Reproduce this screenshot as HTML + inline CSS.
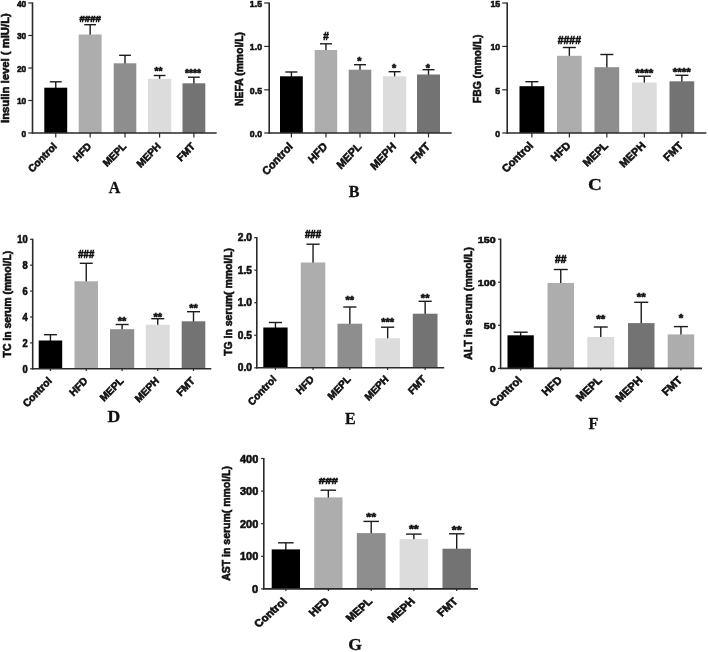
<!DOCTYPE html>
<html lang="en"><head><meta charset="utf-8"><title>Figure</title>
<style>html,body{margin:0;padding:0;background:#fff}body{width:708px;height:652px;overflow:hidden}svg{display:block}text{font-family:'Liberation Sans', Arial, Helvetica, sans-serif;font-weight:bold;fill:#111;stroke:#111;stroke-width:0.6px}.pl{font-family:'Liberation Serif', 'Times New Roman', serif;font-weight:bold;fill:#111;stroke-width:0.3px}</style></head><body>
<svg width="708" height="652" viewBox="0 0 708 652">
<rect x="0" y="0" width="708" height="652" fill="#ffffff"/>
<g>
<g id="panel-A">
<line x1="55.75" y1="88.7" x2="55.75" y2="81.8" stroke="#1c1c1c" stroke-width="1.4"/>
<line x1="49.85" y1="81.8" x2="61.65" y2="81.8" stroke="#1c1c1c" stroke-width="1.4"/>
<rect x="44.3" y="87.7" width="22.9" height="45.3" fill="#000000"/>
<line x1="55.75" y1="133" x2="55.75" y2="137.5" stroke="#2a2a2a" stroke-width="1.2"/>
<text transform="translate(57.55 146.9) scale(0.97 1) rotate(-45)" text-anchor="end" font-size="10.4">Control</text>
<line x1="90.15" y1="35.5" x2="90.15" y2="24.7" stroke="#1c1c1c" stroke-width="1.4"/>
<line x1="84.25" y1="24.7" x2="96.05" y2="24.7" stroke="#1c1c1c" stroke-width="1.4"/>
<rect x="78.7" y="34.5" width="22.9" height="98.5" fill="#adadad"/>
<text x="90.15" y="21.7" text-anchor="middle" font-size="9.5" stroke-width="0.5" textLength="21.2" lengthAdjust="spacingAndGlyphs">####</text>
<line x1="90.15" y1="133" x2="90.15" y2="137.5" stroke="#2a2a2a" stroke-width="1.2"/>
<text transform="translate(91.95 146.9) scale(0.97 1) rotate(-45)" text-anchor="end" font-size="10.4">HFD</text>
<line x1="125" y1="64.3" x2="125" y2="55.3" stroke="#1c1c1c" stroke-width="1.4"/>
<line x1="119.1" y1="55.3" x2="130.9" y2="55.3" stroke="#1c1c1c" stroke-width="1.4"/>
<rect x="113.7" y="63.3" width="22.6" height="69.7" fill="#8e8e8e"/>
<line x1="125" y1="133" x2="125" y2="137.5" stroke="#2a2a2a" stroke-width="1.2"/>
<text transform="translate(126.8 146.9) scale(0.97 1) rotate(-45)" text-anchor="end" font-size="10.4">MEPL</text>
<line x1="159.6" y1="79.8" x2="159.6" y2="75.5" stroke="#1c1c1c" stroke-width="1.4"/>
<line x1="153.7" y1="75.5" x2="165.5" y2="75.5" stroke="#1c1c1c" stroke-width="1.4"/>
<rect x="148" y="78.8" width="23.2" height="54.2" fill="#dcdcdc"/>
<text x="158.6" y="74.8" text-anchor="middle" font-size="10" stroke-width="0.15" textLength="8" lengthAdjust="spacingAndGlyphs">**</text>
<line x1="159.6" y1="133" x2="159.6" y2="137.5" stroke="#2a2a2a" stroke-width="1.2"/>
<text transform="translate(161.4 146.9) scale(0.97 1) rotate(-45)" text-anchor="end" font-size="10.4">MEPH</text>
<line x1="193.9" y1="84.3" x2="193.9" y2="77.2" stroke="#1c1c1c" stroke-width="1.4"/>
<line x1="188" y1="77.2" x2="199.8" y2="77.2" stroke="#1c1c1c" stroke-width="1.4"/>
<rect x="182.5" y="83.3" width="22.8" height="49.7" fill="#737373"/>
<text x="192.9" y="77.2" text-anchor="middle" font-size="10" stroke-width="0.15" textLength="16" lengthAdjust="spacingAndGlyphs">****</text>
<line x1="193.9" y1="133" x2="193.9" y2="137.5" stroke="#2a2a2a" stroke-width="1.2"/>
<text transform="translate(195.7 146.9) scale(0.97 1) rotate(-45)" text-anchor="end" font-size="10.4">FMT</text>
<line x1="32.5" y1="2.4" x2="32.5" y2="133.7" stroke="#2a2a2a" stroke-width="1.6"/>
<line x1="31.7" y1="133" x2="216.7" y2="133" stroke="#2a2a2a" stroke-width="1.6"/>
<line x1="28.3" y1="133" x2="32.5" y2="133" stroke="#2a2a2a" stroke-width="1.2"/>
<text transform="translate(26.3 136.7) scale(0.86 1)" text-anchor="end" font-size="9.8">0</text>
<line x1="28.3" y1="100.5" x2="32.5" y2="100.5" stroke="#2a2a2a" stroke-width="1.2"/>
<text transform="translate(26.3 104.2) scale(0.86 1)" text-anchor="end" font-size="9.8">10</text>
<line x1="28.3" y1="68" x2="32.5" y2="68" stroke="#2a2a2a" stroke-width="1.2"/>
<text transform="translate(26.3 71.7) scale(0.86 1)" text-anchor="end" font-size="9.8">20</text>
<line x1="28.3" y1="35.5" x2="32.5" y2="35.5" stroke="#2a2a2a" stroke-width="1.2"/>
<text transform="translate(26.3 39.2) scale(0.86 1)" text-anchor="end" font-size="9.8">30</text>
<line x1="28.3" y1="3" x2="32.5" y2="3" stroke="#2a2a2a" stroke-width="1.2"/>
<text transform="translate(26.3 7.3) scale(0.86 1)" text-anchor="end" font-size="9.8">40</text>
<text transform="translate(9.1 68.1) rotate(-90)" text-anchor="middle" font-size="11" textLength="109.8" lengthAdjust="spacingAndGlyphs">Insulin level ( mIU/L)</text>
<text class="pl" transform="translate(108.7 192.8) scale(1 1)" font-size="16">A</text>
</g>
<g id="panel-B">
<line x1="291.4" y1="77.3" x2="291.4" y2="72" stroke="#1c1c1c" stroke-width="1.4"/>
<line x1="285.4" y1="72" x2="297.4" y2="72" stroke="#1c1c1c" stroke-width="1.4"/>
<rect x="280" y="76.3" width="22.8" height="56.7" fill="#000000"/>
<line x1="291.4" y1="133" x2="291.4" y2="137.5" stroke="#2a2a2a" stroke-width="1.2"/>
<text transform="translate(293.4 147.2) scale(0.93 1) rotate(-45)" text-anchor="end" font-size="11.5">Control</text>
<line x1="325.95" y1="51" x2="325.95" y2="43.8" stroke="#1c1c1c" stroke-width="1.4"/>
<line x1="319.95" y1="43.8" x2="331.95" y2="43.8" stroke="#1c1c1c" stroke-width="1.4"/>
<rect x="314.7" y="50" width="22.5" height="83" fill="#adadad"/>
<text x="325.95" y="40" text-anchor="middle" font-size="11.3" stroke-width="0.5" textLength="5.6" lengthAdjust="spacingAndGlyphs">#</text>
<line x1="325.95" y1="133" x2="325.95" y2="137.5" stroke="#2a2a2a" stroke-width="1.2"/>
<text transform="translate(327.95 147.2) scale(0.93 1) rotate(-45)" text-anchor="end" font-size="11.5">HFD</text>
<line x1="360" y1="70.7" x2="360" y2="64.7" stroke="#1c1c1c" stroke-width="1.4"/>
<line x1="354" y1="64.7" x2="366" y2="64.7" stroke="#1c1c1c" stroke-width="1.4"/>
<rect x="348.7" y="69.7" width="22.6" height="63.3" fill="#8e8e8e"/>
<text x="359.4" y="65.4" text-anchor="middle" font-size="10" stroke-width="0.15" textLength="4.2" lengthAdjust="spacingAndGlyphs">*</text>
<line x1="360" y1="133" x2="360" y2="137.5" stroke="#2a2a2a" stroke-width="1.2"/>
<text transform="translate(362 147.2) scale(0.93 1) rotate(-45)" text-anchor="end" font-size="11.5">MEPL</text>
<line x1="394.6" y1="77.3" x2="394.6" y2="71.7" stroke="#1c1c1c" stroke-width="1.4"/>
<line x1="388.6" y1="71.7" x2="400.6" y2="71.7" stroke="#1c1c1c" stroke-width="1.4"/>
<rect x="383" y="76.3" width="23.2" height="56.7" fill="#dcdcdc"/>
<text x="394" y="72.1" text-anchor="middle" font-size="10" stroke-width="0.15" textLength="4.2" lengthAdjust="spacingAndGlyphs">*</text>
<line x1="394.6" y1="133" x2="394.6" y2="137.5" stroke="#2a2a2a" stroke-width="1.2"/>
<text transform="translate(396.6 147.2) scale(0.93 1) rotate(-45)" text-anchor="end" font-size="11.5">MEPH</text>
<line x1="428.5" y1="75.5" x2="428.5" y2="69.7" stroke="#1c1c1c" stroke-width="1.4"/>
<line x1="422.5" y1="69.7" x2="434.5" y2="69.7" stroke="#1c1c1c" stroke-width="1.4"/>
<rect x="417" y="74.5" width="23" height="58.5" fill="#737373"/>
<text x="427.9" y="72.1" text-anchor="middle" font-size="10" stroke-width="0.15" textLength="4.2" lengthAdjust="spacingAndGlyphs">*</text>
<line x1="428.5" y1="133" x2="428.5" y2="137.5" stroke="#2a2a2a" stroke-width="1.2"/>
<text transform="translate(430.5 147.2) scale(0.93 1) rotate(-45)" text-anchor="end" font-size="11.5">FMT</text>
<line x1="269.2" y1="2.4" x2="269.2" y2="133.7" stroke="#2a2a2a" stroke-width="1.6"/>
<line x1="268.4" y1="133" x2="451.7" y2="133" stroke="#2a2a2a" stroke-width="1.6"/>
<line x1="264.2" y1="133" x2="269.2" y2="133" stroke="#2a2a2a" stroke-width="1.2"/>
<text transform="translate(262 136.9) scale(0.92 1)" text-anchor="end" font-size="9.5">0.0</text>
<line x1="264.2" y1="89.8" x2="269.2" y2="89.8" stroke="#2a2a2a" stroke-width="1.2"/>
<text transform="translate(262 93.7) scale(0.92 1)" text-anchor="end" font-size="9.5">0.5</text>
<line x1="264.2" y1="46.4" x2="269.2" y2="46.4" stroke="#2a2a2a" stroke-width="1.2"/>
<text transform="translate(262 50.3) scale(0.92 1)" text-anchor="end" font-size="9.5">1.0</text>
<line x1="264.2" y1="3" x2="269.2" y2="3" stroke="#2a2a2a" stroke-width="1.2"/>
<text transform="translate(262 7.3) scale(0.92 1)" text-anchor="end" font-size="9.5">1.5</text>
<text transform="translate(242.6 69) rotate(-90)" text-anchor="middle" font-size="10.3" textLength="73.8" lengthAdjust="spacingAndGlyphs">NEFA (mmol/L)</text>
<text class="pl" transform="translate(348.7 197.2) scale(1 1)" font-size="16">B</text>
</g>
<g id="panel-C">
<line x1="531.9" y1="87.2" x2="531.9" y2="81.7" stroke="#1c1c1c" stroke-width="1.4"/>
<line x1="525.4" y1="81.7" x2="538.4" y2="81.7" stroke="#1c1c1c" stroke-width="1.4"/>
<rect x="519.5" y="86.2" width="24.8" height="46.8" fill="#000000"/>
<line x1="531.9" y1="133" x2="531.9" y2="137.5" stroke="#2a2a2a" stroke-width="1.2"/>
<text transform="translate(533.9 146.3) scale(1.04 1) rotate(-45)" text-anchor="end" font-size="10.6">Control</text>
<line x1="569.35" y1="56.8" x2="569.35" y2="47.5" stroke="#1c1c1c" stroke-width="1.4"/>
<line x1="562.85" y1="47.5" x2="575.85" y2="47.5" stroke="#1c1c1c" stroke-width="1.4"/>
<rect x="557" y="55.8" width="24.7" height="77.2" fill="#adadad"/>
<text x="569.35" y="43.7" text-anchor="middle" font-size="11.5" stroke-width="0.5" textLength="23.2" lengthAdjust="spacingAndGlyphs">####</text>
<line x1="569.35" y1="133" x2="569.35" y2="137.5" stroke="#2a2a2a" stroke-width="1.2"/>
<text transform="translate(571.35 146.3) scale(1.04 1) rotate(-45)" text-anchor="end" font-size="10.6">HFD</text>
<line x1="606.85" y1="68.2" x2="606.85" y2="54.5" stroke="#1c1c1c" stroke-width="1.4"/>
<line x1="600.35" y1="54.5" x2="613.35" y2="54.5" stroke="#1c1c1c" stroke-width="1.4"/>
<rect x="594.5" y="67.2" width="24.7" height="65.8" fill="#8e8e8e"/>
<line x1="606.85" y1="133" x2="606.85" y2="137.5" stroke="#2a2a2a" stroke-width="1.2"/>
<text transform="translate(608.85 146.3) scale(1.04 1) rotate(-45)" text-anchor="end" font-size="10.6">MEPL</text>
<line x1="644.35" y1="83.5" x2="644.35" y2="76.2" stroke="#1c1c1c" stroke-width="1.4"/>
<line x1="637.85" y1="76.2" x2="650.85" y2="76.2" stroke="#1c1c1c" stroke-width="1.4"/>
<rect x="632" y="82.5" width="24.7" height="50.5" fill="#dcdcdc"/>
<text x="644.35" y="76.8" text-anchor="middle" font-size="10" stroke-width="0.15" textLength="18" lengthAdjust="spacingAndGlyphs">****</text>
<line x1="644.35" y1="133" x2="644.35" y2="137.5" stroke="#2a2a2a" stroke-width="1.2"/>
<text transform="translate(646.35 146.3) scale(1.04 1) rotate(-45)" text-anchor="end" font-size="10.6">MEPH</text>
<line x1="681.85" y1="82.3" x2="681.85" y2="75.3" stroke="#1c1c1c" stroke-width="1.4"/>
<line x1="675.35" y1="75.3" x2="688.35" y2="75.3" stroke="#1c1c1c" stroke-width="1.4"/>
<rect x="669.5" y="81.3" width="24.7" height="51.7" fill="#737373"/>
<text x="681.85" y="76" text-anchor="middle" font-size="10" stroke-width="0.15" textLength="18" lengthAdjust="spacingAndGlyphs">****</text>
<line x1="681.85" y1="133" x2="681.85" y2="137.5" stroke="#2a2a2a" stroke-width="1.2"/>
<text transform="translate(683.85 146.3) scale(1.04 1) rotate(-45)" text-anchor="end" font-size="10.6">FMT</text>
<line x1="507.2" y1="2.4" x2="507.2" y2="133.7" stroke="#2a2a2a" stroke-width="1.6"/>
<line x1="506.4" y1="133" x2="706.3" y2="133" stroke="#2a2a2a" stroke-width="1.6"/>
<line x1="502.2" y1="133" x2="507.2" y2="133" stroke="#2a2a2a" stroke-width="1.2"/>
<text transform="translate(500.1 136.9) scale(0.9 1)" text-anchor="end" font-size="9.7">0</text>
<line x1="502.2" y1="89.8" x2="507.2" y2="89.8" stroke="#2a2a2a" stroke-width="1.2"/>
<text transform="translate(500.1 93.7) scale(0.9 1)" text-anchor="end" font-size="9.7">5</text>
<line x1="502.2" y1="46.4" x2="507.2" y2="46.4" stroke="#2a2a2a" stroke-width="1.2"/>
<text transform="translate(500.1 50.3) scale(0.9 1)" text-anchor="end" font-size="9.7">10</text>
<line x1="502.2" y1="3" x2="507.2" y2="3" stroke="#2a2a2a" stroke-width="1.2"/>
<text transform="translate(500.1 7.3) scale(0.9 1)" text-anchor="end" font-size="9.7">15</text>
<text transform="translate(481.2 68.8) rotate(-90)" text-anchor="middle" font-size="10.8" textLength="68.7" lengthAdjust="spacingAndGlyphs">FBG (mmol/L)</text>
<text class="pl" transform="translate(587.9 189.5) scale(1.14 1)" font-size="16.8">C</text>
</g>
<g id="panel-D">
<line x1="50.45" y1="341.5" x2="50.45" y2="334.7" stroke="#1c1c1c" stroke-width="1.4"/>
<line x1="43.95" y1="334.7" x2="56.95" y2="334.7" stroke="#1c1c1c" stroke-width="1.4"/>
<rect x="38.7" y="340.5" width="23.5" height="28.3" fill="#000000"/>
<line x1="50.45" y1="368.8" x2="50.45" y2="371" stroke="#2a2a2a" stroke-width="1.2"/>
<text transform="translate(52.45 381.5) scale(0.97 1) rotate(-45)" text-anchor="end" font-size="10.5">Control</text>
<line x1="86.25" y1="282.3" x2="86.25" y2="263.3" stroke="#1c1c1c" stroke-width="1.4"/>
<line x1="79.75" y1="263.3" x2="92.75" y2="263.3" stroke="#1c1c1c" stroke-width="1.4"/>
<rect x="74.5" y="281.3" width="23.5" height="87.5" fill="#adadad"/>
<text x="86.25" y="258.3" text-anchor="middle" font-size="10.5" stroke-width="0.5" textLength="15.9" lengthAdjust="spacingAndGlyphs">###</text>
<line x1="86.25" y1="368.8" x2="86.25" y2="371" stroke="#2a2a2a" stroke-width="1.2"/>
<text transform="translate(88.25 381.5) scale(0.97 1) rotate(-45)" text-anchor="end" font-size="10.5">HFD</text>
<line x1="122.1" y1="330.2" x2="122.1" y2="324.5" stroke="#1c1c1c" stroke-width="1.4"/>
<line x1="115.6" y1="324.5" x2="128.6" y2="324.5" stroke="#1c1c1c" stroke-width="1.4"/>
<rect x="110" y="329.2" width="24.2" height="39.6" fill="#8e8e8e"/>
<text x="122.1" y="325" text-anchor="middle" font-size="10" stroke-width="0.15" textLength="8.6" lengthAdjust="spacingAndGlyphs">**</text>
<line x1="122.1" y1="368.8" x2="122.1" y2="371" stroke="#2a2a2a" stroke-width="1.2"/>
<text transform="translate(124.1 381.5) scale(0.97 1) rotate(-45)" text-anchor="end" font-size="10.5">MEPL</text>
<line x1="157.75" y1="325.7" x2="157.75" y2="318.7" stroke="#1c1c1c" stroke-width="1.4"/>
<line x1="151.25" y1="318.7" x2="164.25" y2="318.7" stroke="#1c1c1c" stroke-width="1.4"/>
<rect x="145.8" y="324.7" width="23.9" height="44.1" fill="#dcdcdc"/>
<text x="157.75" y="320.8" text-anchor="middle" font-size="10" stroke-width="0.15" textLength="8.6" lengthAdjust="spacingAndGlyphs">**</text>
<line x1="157.75" y1="368.8" x2="157.75" y2="371" stroke="#2a2a2a" stroke-width="1.2"/>
<text transform="translate(159.75 381.5) scale(0.97 1) rotate(-45)" text-anchor="end" font-size="10.5">MEPH</text>
<line x1="193.5" y1="322.3" x2="193.5" y2="311.7" stroke="#1c1c1c" stroke-width="1.4"/>
<line x1="187" y1="311.7" x2="200" y2="311.7" stroke="#1c1c1c" stroke-width="1.4"/>
<rect x="181.7" y="321.3" width="23.6" height="47.5" fill="#737373"/>
<text x="193.5" y="312.4" text-anchor="middle" font-size="10" stroke-width="0.15" textLength="8.6" lengthAdjust="spacingAndGlyphs">**</text>
<line x1="193.5" y1="368.8" x2="193.5" y2="371" stroke="#2a2a2a" stroke-width="1.2"/>
<text transform="translate(195.5 381.5) scale(0.97 1) rotate(-45)" text-anchor="end" font-size="10.5">FMT</text>
<line x1="32.7" y1="238.7" x2="32.7" y2="369.5" stroke="#2a2a2a" stroke-width="1.6"/>
<line x1="31.9" y1="368.8" x2="211.3" y2="368.8" stroke="#2a2a2a" stroke-width="1.6"/>
<line x1="30.1" y1="368.8" x2="32.7" y2="368.8" stroke="#2a2a2a" stroke-width="1.2"/>
<text transform="translate(27.7 372.7) scale(0.93 1)" text-anchor="end" font-size="10">0</text>
<line x1="30.1" y1="342.9" x2="32.7" y2="342.9" stroke="#2a2a2a" stroke-width="1.2"/>
<text transform="translate(27.7 346.8) scale(0.93 1)" text-anchor="end" font-size="10">2</text>
<line x1="30.1" y1="317" x2="32.7" y2="317" stroke="#2a2a2a" stroke-width="1.2"/>
<text transform="translate(27.7 320.9) scale(0.93 1)" text-anchor="end" font-size="10">4</text>
<line x1="30.1" y1="291.1" x2="32.7" y2="291.1" stroke="#2a2a2a" stroke-width="1.2"/>
<text transform="translate(27.7 295) scale(0.93 1)" text-anchor="end" font-size="10">6</text>
<line x1="30.1" y1="265.2" x2="32.7" y2="265.2" stroke="#2a2a2a" stroke-width="1.2"/>
<text transform="translate(27.7 269.1) scale(0.93 1)" text-anchor="end" font-size="10">8</text>
<line x1="30.1" y1="239.3" x2="32.7" y2="239.3" stroke="#2a2a2a" stroke-width="1.2"/>
<text transform="translate(27.7 243.2) scale(0.93 1)" text-anchor="end" font-size="10">10</text>
<text transform="translate(10.5 304.1) rotate(-90)" text-anchor="middle" font-size="10.3" textLength="106.7" lengthAdjust="spacingAndGlyphs">TC in serum (mmol/L)</text>
<text class="pl" transform="translate(107.6 422) scale(1.1 1)" font-size="16">D</text>
</g>
<g id="panel-E">
<line x1="275.45" y1="328.5" x2="275.45" y2="322.5" stroke="#1c1c1c" stroke-width="1.4"/>
<line x1="268.85" y1="322.5" x2="282.05" y2="322.5" stroke="#1c1c1c" stroke-width="1.4"/>
<rect x="263.3" y="327.5" width="24.3" height="40.3" fill="#000000"/>
<line x1="275.45" y1="367.8" x2="275.45" y2="370" stroke="#2a2a2a" stroke-width="1.2"/>
<text transform="translate(276.95 379.8) scale(0.95 1) rotate(-45)" text-anchor="end" font-size="10.5">Control</text>
<line x1="313.05" y1="263.5" x2="313.05" y2="244.2" stroke="#1c1c1c" stroke-width="1.4"/>
<line x1="306.45" y1="244.2" x2="319.65" y2="244.2" stroke="#1c1c1c" stroke-width="1.4"/>
<rect x="300.8" y="262.5" width="24.5" height="105.3" fill="#adadad"/>
<text x="313.05" y="238.3" text-anchor="middle" font-size="10" stroke-width="0.5" textLength="16.2" lengthAdjust="spacingAndGlyphs">###</text>
<line x1="313.05" y1="367.8" x2="313.05" y2="370" stroke="#2a2a2a" stroke-width="1.2"/>
<text transform="translate(314.55 379.8) scale(0.95 1) rotate(-45)" text-anchor="end" font-size="10.5">HFD</text>
<line x1="349.85" y1="324.7" x2="349.85" y2="307" stroke="#1c1c1c" stroke-width="1.4"/>
<line x1="343.25" y1="307" x2="356.45" y2="307" stroke="#1c1c1c" stroke-width="1.4"/>
<rect x="337.5" y="323.7" width="24.7" height="44.1" fill="#8e8e8e"/>
<text x="349.85" y="303.5" text-anchor="middle" font-size="10" stroke-width="0.15" textLength="8.6" lengthAdjust="spacingAndGlyphs">**</text>
<line x1="349.85" y1="367.8" x2="349.85" y2="370" stroke="#2a2a2a" stroke-width="1.2"/>
<text transform="translate(351.35 379.8) scale(0.95 1) rotate(-45)" text-anchor="end" font-size="10.5">MEPL</text>
<line x1="387.65" y1="339.3" x2="387.65" y2="327.2" stroke="#1c1c1c" stroke-width="1.4"/>
<line x1="381.05" y1="327.2" x2="394.25" y2="327.2" stroke="#1c1c1c" stroke-width="1.4"/>
<rect x="375.3" y="338.3" width="24.7" height="29.5" fill="#dcdcdc"/>
<text x="387.65" y="326.2" text-anchor="middle" font-size="10" stroke-width="0.15" textLength="12.9" lengthAdjust="spacingAndGlyphs">***</text>
<line x1="387.65" y1="367.8" x2="387.65" y2="370" stroke="#2a2a2a" stroke-width="1.2"/>
<text transform="translate(389.15 379.8) scale(0.95 1) rotate(-45)" text-anchor="end" font-size="10.5">MEPH</text>
<line x1="425.15" y1="314.7" x2="425.15" y2="301.3" stroke="#1c1c1c" stroke-width="1.4"/>
<line x1="418.55" y1="301.3" x2="431.75" y2="301.3" stroke="#1c1c1c" stroke-width="1.4"/>
<rect x="412.8" y="313.7" width="24.7" height="54.1" fill="#737373"/>
<text x="425.15" y="301.7" text-anchor="middle" font-size="10" stroke-width="0.15" textLength="8.6" lengthAdjust="spacingAndGlyphs">**</text>
<line x1="425.15" y1="367.8" x2="425.15" y2="370" stroke="#2a2a2a" stroke-width="1.2"/>
<text transform="translate(426.65 379.8) scale(0.95 1) rotate(-45)" text-anchor="end" font-size="10.5">FMT</text>
<line x1="256.8" y1="237" x2="256.8" y2="368.5" stroke="#2a2a2a" stroke-width="1.6"/>
<line x1="256" y1="367.8" x2="444.2" y2="367.8" stroke="#2a2a2a" stroke-width="1.6"/>
<line x1="254.3" y1="367.8" x2="256.8" y2="367.8" stroke="#2a2a2a" stroke-width="1.2"/>
<text transform="translate(251.9 371.4) scale(1 1)" text-anchor="end" font-size="10.2">0.0</text>
<line x1="254.3" y1="335.3" x2="256.8" y2="335.3" stroke="#2a2a2a" stroke-width="1.2"/>
<text transform="translate(251.9 338.9) scale(1 1)" text-anchor="end" font-size="10.2">0.5</text>
<line x1="254.3" y1="302.7" x2="256.8" y2="302.7" stroke="#2a2a2a" stroke-width="1.2"/>
<text transform="translate(251.9 306.3) scale(1 1)" text-anchor="end" font-size="10.2">1.0</text>
<line x1="254.3" y1="270.2" x2="256.8" y2="270.2" stroke="#2a2a2a" stroke-width="1.2"/>
<text transform="translate(251.9 273.8) scale(1 1)" text-anchor="end" font-size="10.2">1.5</text>
<line x1="254.3" y1="237.6" x2="256.8" y2="237.6" stroke="#2a2a2a" stroke-width="1.2"/>
<text transform="translate(251.9 241.2) scale(1 1)" text-anchor="end" font-size="10.2">2.0</text>
<text transform="translate(232.4 301.9) rotate(-90)" text-anchor="middle" font-size="10.9" textLength="107.8" lengthAdjust="spacingAndGlyphs">TG in serum( mmol/L)</text>
<text class="pl" transform="translate(345 423.6) scale(1 1)" font-size="16">E</text>
</g>
<g id="panel-F">
<line x1="520.65" y1="336.3" x2="520.65" y2="332.2" stroke="#1c1c1c" stroke-width="1.4"/>
<line x1="513.65" y1="332.2" x2="527.65" y2="332.2" stroke="#1c1c1c" stroke-width="1.4"/>
<rect x="507.5" y="335.3" width="26.3" height="33.1" fill="#000000"/>
<line x1="520.65" y1="368.4" x2="520.65" y2="370.6" stroke="#2a2a2a" stroke-width="1.2"/>
<text transform="translate(522.65 380.9) scale(1.07 1) rotate(-45)" text-anchor="end" font-size="10.6">Control</text>
<line x1="560.75" y1="284" x2="560.75" y2="269.5" stroke="#1c1c1c" stroke-width="1.4"/>
<line x1="553.75" y1="269.5" x2="567.75" y2="269.5" stroke="#1c1c1c" stroke-width="1.4"/>
<rect x="547.5" y="283" width="26.5" height="85.4" fill="#adadad"/>
<text x="560.75" y="262.5" text-anchor="middle" font-size="10" stroke-width="0.5" textLength="11.4" lengthAdjust="spacingAndGlyphs">##</text>
<line x1="560.75" y1="368.4" x2="560.75" y2="370.6" stroke="#2a2a2a" stroke-width="1.2"/>
<text transform="translate(562.75 380.9) scale(1.07 1) rotate(-45)" text-anchor="end" font-size="10.6">HFD</text>
<line x1="600.75" y1="338" x2="600.75" y2="327" stroke="#1c1c1c" stroke-width="1.4"/>
<line x1="593.75" y1="327" x2="607.75" y2="327" stroke="#1c1c1c" stroke-width="1.4"/>
<rect x="587.3" y="337" width="26.9" height="31.4" fill="#dcdcdc"/>
<text x="600.75" y="322.6" text-anchor="middle" font-size="10" stroke-width="0.15" textLength="9" lengthAdjust="spacingAndGlyphs">**</text>
<line x1="600.75" y1="368.4" x2="600.75" y2="370.6" stroke="#2a2a2a" stroke-width="1.2"/>
<text transform="translate(602.75 380.9) scale(1.07 1) rotate(-45)" text-anchor="end" font-size="10.6">MEPL</text>
<line x1="641.25" y1="324.1" x2="641.25" y2="302.3" stroke="#1c1c1c" stroke-width="1.4"/>
<line x1="634.25" y1="302.3" x2="648.25" y2="302.3" stroke="#1c1c1c" stroke-width="1.4"/>
<rect x="628" y="323.1" width="26.5" height="45.3" fill="#737373"/>
<text x="641.25" y="300.6" text-anchor="middle" font-size="10" stroke-width="0.15" textLength="9" lengthAdjust="spacingAndGlyphs">**</text>
<line x1="641.25" y1="368.4" x2="641.25" y2="370.6" stroke="#2a2a2a" stroke-width="1.2"/>
<text transform="translate(643.25 380.9) scale(1.07 1) rotate(-45)" text-anchor="end" font-size="10.6">MEPH</text>
<line x1="680.95" y1="335.4" x2="680.95" y2="326.6" stroke="#1c1c1c" stroke-width="1.4"/>
<line x1="673.95" y1="326.6" x2="687.95" y2="326.6" stroke="#1c1c1c" stroke-width="1.4"/>
<rect x="667.7" y="334.4" width="26.5" height="34" fill="#adadad"/>
<text x="680.95" y="321.5" text-anchor="middle" font-size="10" stroke-width="0.15" textLength="4.5" lengthAdjust="spacingAndGlyphs">*</text>
<line x1="680.95" y1="368.4" x2="680.95" y2="370.6" stroke="#2a2a2a" stroke-width="1.2"/>
<text transform="translate(682.95 380.9) scale(1.07 1) rotate(-45)" text-anchor="end" font-size="10.6">FMT</text>
<line x1="500.6" y1="238.6" x2="500.6" y2="369.1" stroke="#2a2a2a" stroke-width="1.6"/>
<line x1="499.8" y1="368.4" x2="702" y2="368.4" stroke="#2a2a2a" stroke-width="1.6"/>
<line x1="498.1" y1="368.4" x2="500.6" y2="368.4" stroke="#2a2a2a" stroke-width="1.2"/>
<text transform="translate(495.7 372.3) scale(1.09 1)" text-anchor="end" font-size="9.8">0</text>
<line x1="498.1" y1="325.3" x2="500.6" y2="325.3" stroke="#2a2a2a" stroke-width="1.2"/>
<text transform="translate(495.7 329.2) scale(1.09 1)" text-anchor="end" font-size="9.8">50</text>
<line x1="498.1" y1="282.2" x2="500.6" y2="282.2" stroke="#2a2a2a" stroke-width="1.2"/>
<text transform="translate(495.7 286.1) scale(1.09 1)" text-anchor="end" font-size="9.8">100</text>
<line x1="498.1" y1="239.2" x2="500.6" y2="239.2" stroke="#2a2a2a" stroke-width="1.2"/>
<text transform="translate(495.7 243.1) scale(1.09 1)" text-anchor="end" font-size="9.8">150</text>
<text transform="translate(472.4 303.4) rotate(-90)" text-anchor="middle" font-size="11.2" textLength="112.5" lengthAdjust="spacingAndGlyphs">ALT in serum (mmol/L)</text>
<text class="pl" transform="translate(588.6 428.5) scale(1 1)" font-size="16">F</text>
</g>
<g id="panel-G">
<line x1="285.85" y1="550.4" x2="285.85" y2="542.8" stroke="#1c1c1c" stroke-width="1.4"/>
<line x1="278.1" y1="542.8" x2="293.6" y2="542.8" stroke="#1c1c1c" stroke-width="1.4"/>
<rect x="271.7" y="549.4" width="28.3" height="39.5" fill="#000000"/>
<line x1="285.85" y1="588.9" x2="285.85" y2="591.1" stroke="#2a2a2a" stroke-width="1.2"/>
<text transform="translate(287.75 602.1) scale(1.12 1) rotate(-45)" text-anchor="end" font-size="10.3">Control</text>
<line x1="328.35" y1="498.4" x2="328.35" y2="490.2" stroke="#1c1c1c" stroke-width="1.4"/>
<line x1="320.6" y1="490.2" x2="336.1" y2="490.2" stroke="#1c1c1c" stroke-width="1.4"/>
<rect x="314.2" y="497.4" width="28.3" height="91.5" fill="#adadad"/>
<text x="328.35" y="483.9" text-anchor="middle" font-size="9.8" stroke-width="0.5" textLength="19.2" lengthAdjust="spacingAndGlyphs">###</text>
<line x1="328.35" y1="588.9" x2="328.35" y2="591.1" stroke="#2a2a2a" stroke-width="1.2"/>
<text transform="translate(330.25 602.1) scale(1.12 1) rotate(-45)" text-anchor="end" font-size="10.3">HFD</text>
<line x1="371.2" y1="534.1" x2="371.2" y2="521.4" stroke="#1c1c1c" stroke-width="1.4"/>
<line x1="363.45" y1="521.4" x2="378.95" y2="521.4" stroke="#1c1c1c" stroke-width="1.4"/>
<rect x="356.8" y="533.1" width="28.8" height="55.8" fill="#8e8e8e"/>
<text x="371.2" y="521.1" text-anchor="middle" font-size="10" stroke-width="0.15" textLength="9.8" lengthAdjust="spacingAndGlyphs">**</text>
<line x1="371.2" y1="588.9" x2="371.2" y2="591.1" stroke="#2a2a2a" stroke-width="1.2"/>
<text transform="translate(373.1 602.1) scale(1.12 1) rotate(-45)" text-anchor="end" font-size="10.3">MEPL</text>
<line x1="413.85" y1="540.1" x2="413.85" y2="534.1" stroke="#1c1c1c" stroke-width="1.4"/>
<line x1="406.1" y1="534.1" x2="421.6" y2="534.1" stroke="#1c1c1c" stroke-width="1.4"/>
<rect x="399.6" y="539.1" width="28.5" height="49.8" fill="#dcdcdc"/>
<text x="413.85" y="533" text-anchor="middle" font-size="10" stroke-width="0.15" textLength="9.8" lengthAdjust="spacingAndGlyphs">**</text>
<line x1="413.85" y1="588.9" x2="413.85" y2="591.1" stroke="#2a2a2a" stroke-width="1.2"/>
<text transform="translate(415.75 602.1) scale(1.12 1) rotate(-45)" text-anchor="end" font-size="10.3">MEPH</text>
<line x1="456.7" y1="549.7" x2="456.7" y2="533.8" stroke="#1c1c1c" stroke-width="1.4"/>
<line x1="448.95" y1="533.8" x2="464.45" y2="533.8" stroke="#1c1c1c" stroke-width="1.4"/>
<rect x="442.5" y="548.7" width="28.4" height="40.2" fill="#737373"/>
<text x="456.7" y="533.8" text-anchor="middle" font-size="10" stroke-width="0.15" textLength="9.8" lengthAdjust="spacingAndGlyphs">**</text>
<line x1="456.7" y1="588.9" x2="456.7" y2="591.1" stroke="#2a2a2a" stroke-width="1.2"/>
<text transform="translate(458.6 602.1) scale(1.12 1) rotate(-45)" text-anchor="end" font-size="10.3">FMT</text>
<line x1="263.8" y1="457.9" x2="263.8" y2="589.6" stroke="#2a2a2a" stroke-width="1.6"/>
<line x1="263" y1="588.9" x2="478" y2="588.9" stroke="#2a2a2a" stroke-width="1.6"/>
<line x1="261.1" y1="588.9" x2="263.8" y2="588.9" stroke="#2a2a2a" stroke-width="1.2"/>
<text transform="translate(258.2 592.9) scale(1.06 1)" text-anchor="end" font-size="10.3">0</text>
<line x1="261.1" y1="556.3" x2="263.8" y2="556.3" stroke="#2a2a2a" stroke-width="1.2"/>
<text transform="translate(258.2 560.3) scale(1.06 1)" text-anchor="end" font-size="10.3">100</text>
<line x1="261.1" y1="523.7" x2="263.8" y2="523.7" stroke="#2a2a2a" stroke-width="1.2"/>
<text transform="translate(258.2 527.7) scale(1.06 1)" text-anchor="end" font-size="10.3">200</text>
<line x1="261.1" y1="491.1" x2="263.8" y2="491.1" stroke="#2a2a2a" stroke-width="1.2"/>
<text transform="translate(258.2 495.1) scale(1.06 1)" text-anchor="end" font-size="10.3">300</text>
<line x1="261.1" y1="458.5" x2="263.8" y2="458.5" stroke="#2a2a2a" stroke-width="1.2"/>
<text transform="translate(258.2 462.5) scale(1.06 1)" text-anchor="end" font-size="10.3">400</text>
<text transform="translate(229.8 523.4) rotate(-90)" text-anchor="middle" font-size="11.6" textLength="114.8" lengthAdjust="spacingAndGlyphs">AST in serum( mmol/L)</text>
<text class="pl" transform="translate(348.2 650.2) scale(1.1 1)" font-size="16">G</text>
</g>
</g>
</svg></body></html>
